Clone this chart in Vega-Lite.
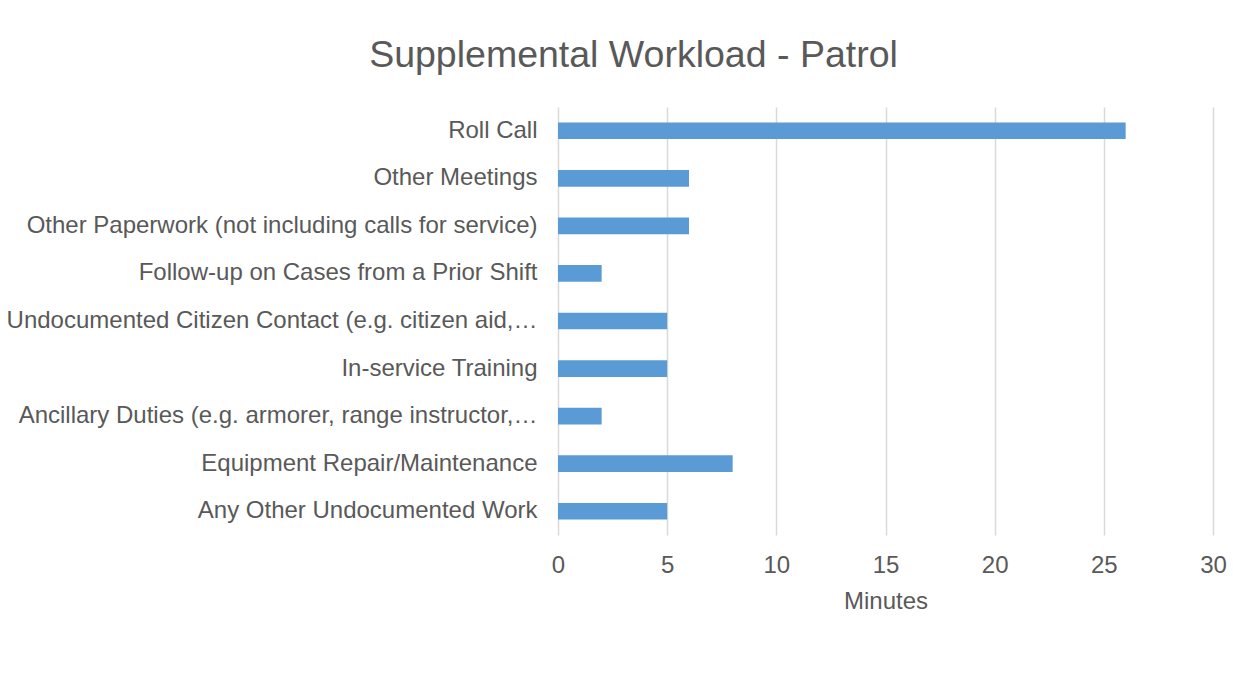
{
  "$schema": "https://vega.github.io/schema/vega-lite/v6.json",
  "autosize": "none",
  "width": 655,
  "height": 428,
  "padding": {"left": 558, "top": 107, "right": 33, "bottom": 138},
  "background": "white",
  "title": {
    "text": "Supplemental Workload - Patrol",
    "font": "Liberation Sans",
    "fontSize": 37.5,
    "fontWeight": "normal",
    "color": "#595959",
    "anchor": "middle",
    "frame": "group",
    "dx": -252,
    "baseline": "alphabetic",
    "offset": 3
  },
  "data": {
    "values": [
      {"activity": "Roll Call ", "minutes": 26},
      {"activity": "Other Meetings", "minutes": 6},
      {"activity": "Other Paperwork (not including calls for service)", "minutes": 6},
      {"activity": "Follow-up on Cases from a Prior Shift", "minutes": 2},
      {"activity": "Undocumented Citizen Contact (e.g. citizen aid,…", "minutes": 5},
      {"activity": "In-service Training", "minutes": 5},
      {"activity": "Ancillary Duties (e.g. armorer, range instructor,…", "minutes": 2},
      {"activity": "Equipment Repair/Maintenance", "minutes": 8},
      {"activity": "Any Other Undocumented  Work", "minutes": 5}
    ]
  },
  "mark": {"type": "bar", "color": "#5b9bd5"},
  "encoding": {
    "y": {
      "field": "activity",
      "type": "nominal",
      "sort": null,
      "scale": {"paddingInner": 0.65, "paddingOuter": 0.325},
      "axis": {
        "title": null,
        "labelFont": "Liberation Sans",
        "labelFontSize": 24,
        "labelColor": "#595959",
        "ticks": false,
        "domain": false,
        "labelPadding": 21,
        "labelLimit": 800
      }
    },
    "x": {
      "field": "minutes",
      "type": "quantitative",
      "scale": {"domain": [0, 30], "nice": false},
      "axis": {
        "title": "Minutes",
        "values": [0, 5, 10, 15, 20, 25, 30],
        "grid": true,
        "gridColor": "#d9d9d9",
        "gridWidth": 1.5,
        "domain": false,
        "ticks": false,
        "labelFlush": false,
        "labelFont": "Liberation Sans",
        "labelFontSize": 24,
        "labelColor": "#595959",
        "labelPadding": 18,
        "titleFont": "Liberation Sans",
        "titleFontSize": 24,
        "titleFontWeight": "normal",
        "titleColor": "#595959",
        "titlePadding": 12
      }
    }
  },
  "config": {"view": {"stroke": null}}
}
